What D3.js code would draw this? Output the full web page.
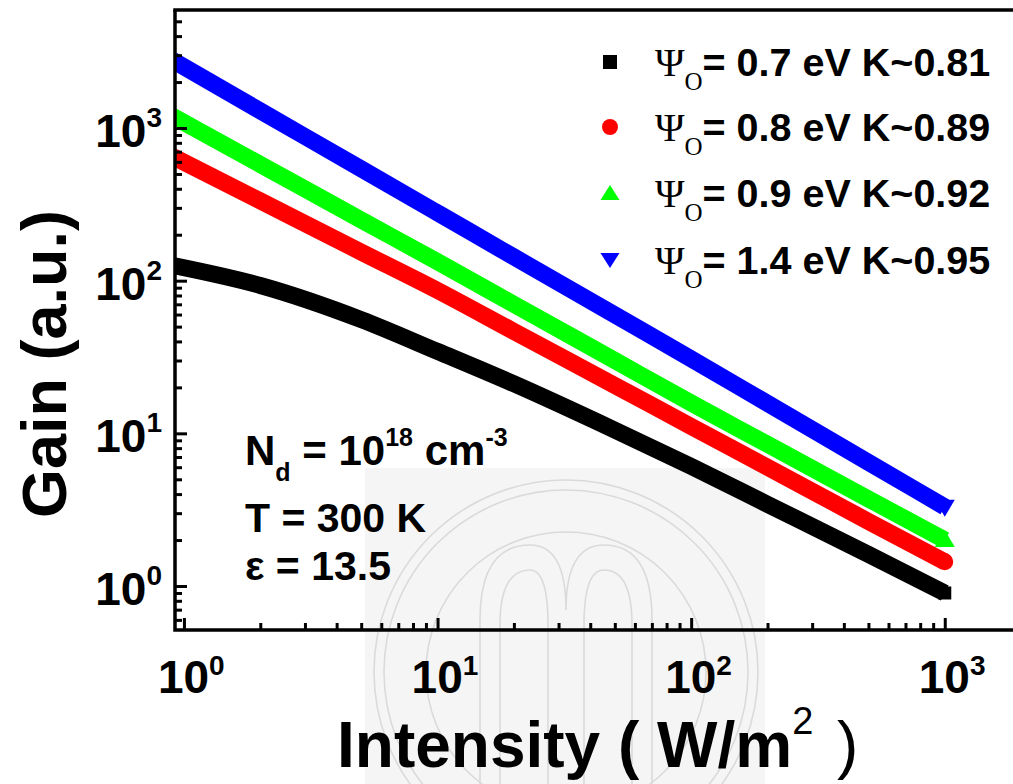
<!DOCTYPE html>
<html>
<head>
<meta charset="utf-8">
<script src="https://cdn.jsdelivr.net/npm/d3@7"></script>
<style>
  html, body { margin: 0; padding: 0; background: #fff; }
  svg { display: block; }
  text { font-family: "Liberation Sans", Arial, sans-serif; fill: #000; }
</style>
</head>
<body>
<svg id="chart" width="1013" height="784"></svg>
<script>
// Incident intensity (W/m^2)
const intensity = [0.9, 2, 5, 10, 20, 50, 100, 200, 500, 1000];
// Photoconductive gain (a.u.) for each barrier height
const gainPsi07 = [126, 93, 55.6, 34.4, 21.1, 10.5, 6.07, 3.43, 1.61, 0.90];
const gainPsi08 = [652, 333, 154, 86.3, 46.5, 20.6, 11.1, 6.0, 2.65, 1.44];
const gainPsi09 = [1195, 577, 250, 133, 70, 30, 15.8, 8.47, 3.72, 2.0];
const gainPsi14 = [2780, 1295, 540, 278, 143, 59.6, 30.8, 15.7, 6.46, 3.30];

const seriesNames = ["0.7 eV K~0.81", "0.8 eV K~0.89", "0.9 eV K~0.92", "1.4 eV K~0.95"];
const seriesColors = ["#000000", "#ff0000", "#00ff00", "#0000ff"];
const seriesShapes = ["square", "circle", "triangleUp", "triangleDown"];
const seriesValues = [gainPsi07, gainPsi08, gainPsi09, gainPsi14];

const xMajor = [1, 10, 100, 1000];
const xMajorExp = ["0", "1", "2", "3"];
const yMajor = [1, 10, 100, 1000];
const yMajorExp = ["0", "1", "2", "3"];

const svg = d3.select("#chart");
const W = 1013, H = 784;
const plot = { left: 175, right: 1020, top: 10, bottom: 630 };

const x = d3.scaleLog().domain([0.922, 1980]).range([plot.left, plot.right]);
const y = d3.scaleLog().domain([0.515, 5930]).range([plot.bottom, plot.top]);

svg.append("rect").attr("width", W).attr("height", H).attr("fill", "#fff");

// Faint seal watermark behind the plot
const wm = svg.append("g");
wm.append("clipPath").attr("id", "wmclip")
  .append("rect").attr("x", 365).attr("y", 468).attr("width", 400).attr("height", 316);
wm.append("rect").attr("x", 365).attr("y", 468).attr("width", 400).attr("height", 316)
  .attr("fill", "#f5f5f5");
const wmg = wm.append("g").attr("clip-path", "url(#wmclip)")
  .attr("fill", "none").attr("stroke", "#dadada").attr("stroke-width", 1.6);
wmg.append("circle").attr("cx", 566).attr("cy", 672).attr("r", 192);
wmg.append("circle").attr("cx", 566).attr("cy", 672).attr("r", 182);
wmg.append("circle").attr("cx", 566).attr("cy", 672).attr("r", 140);
wmg.append("path").attr("d", "M480,784 L480,620 Q480,545 530,545 Q566,545 566,610 Q566,545 604,545 Q652,545 652,620 L652,784");
wmg.append("path").attr("d", "M500,784 L500,625 Q500,570 530,570 Q548,570 548,625 L548,784");
wmg.append("path").attr("d", "M584,784 L584,625 Q584,570 604,570 Q632,570 632,625 L632,784");

// Curves
svg.append("clipPath").attr("id", "plotclip")
  .append("rect").attr("x", plot.left).attr("y", plot.top)
  .attr("width", plot.right - plot.left).attr("height", plot.bottom - plot.top);

const curves = svg.append("g").attr("clip-path", "url(#plotclip)");
const line = d3.line().x(d => x(d[0])).y(d => y(d[1])).curve(d3.curveMonotoneX);

function markerPath(shape) {
  switch (shape) {
    case "square": return "M-6.5,-6.5H6.5V6.5H-6.5Z";
    case "circle": return d3.symbol(d3.symbolCircle, Math.PI * 8.5 * 8.5)();
    case "triangleUp": return "M0,-10L10,7L-10,7Z";
    case "triangleDown": return "M0,10L10,-7L-10,-7Z";
  }
}

seriesValues.forEach((vals, i) => {
  const pts = intensity.map((v, k) => [v, vals[k]]);
  curves.append("path").datum(pts).attr("d", line)
    .attr("fill", "none").attr("stroke", seriesColors[i])
    .attr("stroke-width", 17).attr("stroke-linejoin", "round");
  // the densely packed symbols merge into a band; only the final symbol shows its shape
  const last = pts[pts.length - 1];
  curves.append("path")
    .attr("d", markerPath(seriesShapes[i]))
    .attr("transform", `translate(${x(last[0])},${y(last[1])})`)
    .attr("fill", seriesColors[i]);
});

// Axes: ticks point into the plot
function minorTicks(scale) {
  const [a, b] = scale.domain();
  const out = [];
  for (let e = Math.floor(Math.log10(a)); e <= Math.ceil(Math.log10(b)); e++) {
    for (let m = 2; m <= 9; m++) {
      const v = m * Math.pow(10, e);
      if (v >= a && v <= b) out.push(v);
    }
  }
  return out;
}

const axisStroke = 3;
const yAxisMajor = d3.axisLeft(y).tickValues(yMajor).tickSize(-12).tickFormat("");
const yAxisMinor = d3.axisLeft(y).tickValues(minorTicks(y)).tickSize(-7).tickFormat("");
const xAxisMajor = d3.axisBottom(x).tickValues(xMajor).tickSize(-12).tickFormat("");
const xAxisMinor = d3.axisBottom(x).tickValues(minorTicks(x)).tickSize(-7).tickFormat("");

[[yAxisMajor, `translate(${plot.left},0)`], [yAxisMinor, `translate(${plot.left},0)`],
 [xAxisMajor, `translate(0,${plot.bottom})`], [xAxisMinor, `translate(0,${plot.bottom})`]]
  .forEach(([ax, tr]) => {
    const g = svg.append("g").attr("transform", tr).call(ax);
    g.select(".domain").remove();
    g.selectAll(".tick line").attr("stroke", "#000").attr("stroke-width", axisStroke);
  });

// Frame: left, bottom and top lines
const frame = svg.append("g").attr("stroke", "#000").attr("stroke-width", 3.5).attr("fill", "none");
frame.append("path").attr("d", `M${plot.left},${plot.top}V${plot.bottom}H${W}`);
frame.append("path").attr("d", `M${plot.left - 1.75},${plot.top}H${W}`);

// Tick labels with superscript exponents
function powerLabel(g, base, exp, size, supSize, supShift) {
  g.append("tspan").text(base).attr("font-size", size);
  g.append("tspan").text(exp).attr("font-size", supSize).attr("dy", -supShift);
}

yMajor.forEach((v, i) => {
  const t = svg.append("text").attr("x", 162).attr("y", y(v) + 19)
    .attr("text-anchor", "end").attr("font-weight", "bold");
  powerLabel(t, "10", yMajorExp[i], 46, 28, 20);
});

xMajor.forEach((v, i) => {
  const t = svg.append("text").attr("x", x(v) - 26).attr("y", 693)
    .attr("font-weight", "bold");
  powerLabel(t, "10", xMajorExp[i], 46, 28, 18);
});

// Axis titles
svg.append("text")
  .attr("transform", "translate(66,364) rotate(-90)")
  .attr("text-anchor", "middle").attr("font-weight", "bold").attr("font-size", 63)
  .text("Gain (a.u.)");

const xt = svg.append("text").attr("x", 337).attr("y", 767)
  .attr("font-weight", "bold").attr("font-size", 64);
xt.append("tspan").text("Intensity ( W/m");
xt.append("tspan").text("2").attr("font-weight", "normal").attr("font-size", 38).attr("dy", -33);
xt.append("tspan").text("\u00A0)").attr("font-weight", "normal").attr("dy", 33).attr("dx", 6);

// Legend
const legendY = [62, 127, 193, 260];
seriesNames.forEach((name, i) => {
  const cy = legendY[i];
  let p;
  switch (seriesShapes[i]) {
    case "square": p = "M-7,-7H7V7H-7Z"; break;
    case "circle": p = d3.symbol(d3.symbolCircle, Math.PI * 8 * 8)(); break;
    case "triangleUp": p = "M0,-8L9.5,7L-9.5,7Z"; break;
    case "triangleDown": p = "M0,8L9.5,-7L-9.5,-7Z"; break;
  }
  svg.append("path").attr("d", p).attr("transform", `translate(610,${cy})`)
    .attr("fill", seriesColors[i]);
  const t = svg.append("text").attr("x", 655).attr("y", cy + 14);
  t.append("tspan").text("\u03A8").attr("font-family", "Liberation Serif, Times New Roman, serif")
    .attr("font-size", 40);
  t.append("tspan").text("O").attr("font-family", "Liberation Serif, Times New Roman, serif")
    .attr("font-size", 25).attr("dy", 14);
  t.append("tspan").text("= " + name).attr("font-weight", "bold")
    .attr("font-size", 39.5).attr("dy", -14);
});

// Material parameters
const ann = svg.append("g").attr("font-weight", "bold");
const n1 = ann.append("text").attr("x", 245).attr("y", 465).attr("font-size", 42);
n1.append("tspan").text("N");
n1.append("tspan").text("d").attr("font-size", 25).attr("dy", 16);
n1.append("tspan").text(" = 10").attr("dy", -16);
n1.append("tspan").text("18").attr("font-size", 25).attr("dy", -19);
n1.append("tspan").text(" cm").attr("dy", 19);
n1.append("tspan").text("-3").attr("font-size", 25).attr("dy", -19);
ann.append("text").attr("x", 245).attr("y", 532).attr("font-size", 41).text("T = 300 K");
ann.append("text").attr("x", 245).attr("y", 580).attr("font-size", 41).text("\u03B5 = 13.5");
</script>
</body>
</html>
